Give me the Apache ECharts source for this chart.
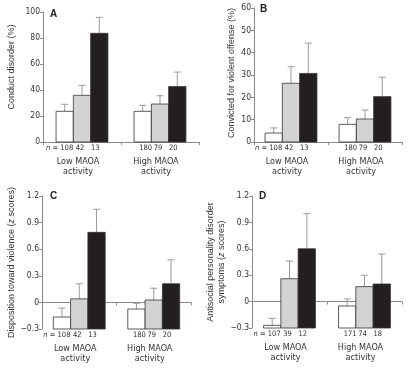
<!DOCTYPE html>
<html><head><meta charset="utf-8">
<script src="https://cdn.jsdelivr.net/npm/echarts@6/dist/echarts.min.js"></script>
<style>html,body{margin:0;padding:0;background:#fff}#c{width:413px;height:368px}</style>
</head><body><div id="c"></div>
<script>
// Data (order: Low MAOA white/gray/black, High MAOA white/gray/black)
const categories = ['Low MAOA\nactivity', 'High MAOA\nactivity'];
const valuesA = [23.6, 35.9, 83.6, 23.6, 29.2, 42.6];
const errTopA = [29.0, 43.6, 95.9, 28.2, 35.6, 53.8];
const nA = ['108', '42', '13', '180', '79', '20'];
const valuesB = [4.0, 26.3, 30.7, 7.9, 10.3, 20.3];
const errTopB = [6.3, 33.7, 44.3, 10.9, 14.3, 29.0];
const nB = ['108', '42', '13', '180', '79', '20'];
const valuesC = [-0.165, 0.04, 0.79, -0.075, 0.027, 0.21];
const errTopC = [-0.065, 0.21, 1.05, -0.01, 0.16, 0.48];
const nC = ['108', '42', '13', '180', '79', '20'];
const valuesD = [-0.27, 0.26, 0.60, -0.05, 0.17, 0.20];
const errTopD = [-0.19, 0.46, 1.00, 0.03, 0.30, 0.54];
const nD = ['107', '39', '12', '171', '74', '18'];

const FONT = "'Liberation Sans', Arial, Helvetica, sans-serif";
const NARROW = "'Liberation Sans Narrow', 'Arial Narrow', 'DejaVu Sans Condensed', sans-serif";
const FILLS = ['#ffffff', '#d3d3d3', '#231f20'];
const BW = 17.3;
const LABEL_SHIFT = [3, -2, -4];

const panels = [
  {letter: 'A', values: valuesA, err: errTopA, n: nA, min: 0, max: 100, interval: 20,
   name: 'Conduct disorder (%)', nameGap: 26, namePad: [0, 0, 0, 20],
   grid: {left: 43, top: 12, width: 156, height: 130}, title: {left: 50, top: 9}},
  {letter: 'B', values: valuesB, err: errTopB, n: nB, min: 0, max: 60, interval: 10,
   name: 'Convicted for violent offense (%)', nameGap: 12, namePad: [0, 0, 0, 4],
   grid: {left: 254, top: 8, width: 148, height: 134}, title: {left: 260, top: 4}},
  {letter: 'C', values: valuesC, err: errTopC, n: nC, min: -0.3, max: 1.2, interval: 0.3,
   name: 'Disposition toward violence ({i|z} scores)', nameGap: 20, namePad: [0, 0, 0, 0],
   grid: {left: 42, top: 196, width: 149, height: 133}, title: {left: 50, top: 191}},
  {letter: 'D', values: valuesD, err: errTopD, n: nD, min: -0.3, max: 1.2, interval: 0.3,
   name: 'Antisocial personality disorder\nsymptoms ({i|z} scores)', nameGap: 17, namePad: [0, 0, 0, 0],
   grid: {left: 252, top: 196, width: 150, height: 132}, title: {left: 259, top: 191}}
];

function fmt(v) {
  if (Math.abs(v) < 1e-9) return '0';
  const r = Math.round(v * 10) / 10;
  const s = (Math.abs(r) >= 10) ? String(Math.round(r)) : r.toFixed(1);
  return s.replace('-', '\u2212');
}

const option = {
  animation: false,
  backgroundColor: '#fff',
  textStyle: {fontFamily: FONT},
  title: [], grid: [], xAxis: [], yAxis: [], series: []
};

panels.forEach((p, i) => {
  option.title.push({text: p.letter, left: p.title.left, top: p.title.top, padding: 0,
    textStyle: {fontSize: 10, fontWeight: 'bold', color: '#222', fontFamily: FONT}});
  option.grid.push(Object.assign({containLabel: false}, p.grid));
  option.xAxis.push({type: 'category', gridIndex: i, data: categories,
    axisLine: {lineStyle: {color: '#8a8a8a', width: 1}},
    axisTick: {show: true, length: 3, lineStyle: {color: '#8a8a8a'}},
    axisLabel: {margin: 15, fontSize: 9, lineHeight: 10, color: '#333', fontFamily: NARROW,
      padding: [0, 8, 0, 0]},
    splitLine: {show: false}});
  option.yAxis.push({type: 'value', gridIndex: i, min: p.min, max: p.max, interval: p.interval,
    name: p.name, nameLocation: 'middle', nameGap: p.nameGap,
    nameTextStyle: {fontSize: 9, color: '#333', lineHeight: 11, fontFamily: FONT, padding: p.namePad,
      rich: {i: {fontStyle: 'italic', fontSize: 9, color: '#333', fontFamily: FONT}}},
    axisLine: {show: true, lineStyle: {color: '#8a8a8a', width: 1}},
    axisTick: {show: true, length: 3, lineStyle: {color: '#8a8a8a'}},
    axisLabel: {fontSize: 8.5, color: '#333', margin: 3, fontFamily: NARROW, formatter: fmt},
    splitLine: {show: false}});
  const data = p.values.map((v, j) => [Math.floor(j / 3), j % 3, v, p.err[j], j]);
  option.series.push({
    type: 'custom', xAxisIndex: i, yAxisIndex: i, data: data, clip: false,
    renderItem: function (params, api) {
      const cat = api.value(0), k = api.value(1), v = api.value(2), e = api.value(3), idx = api.value(4);
      const c = api.coord([cat, v]);
      const cx = c[0] + (k - 1) * BW;
      const top = c[1];
      const base = api.coord([cat, p.min])[1];
      const et = api.coord([cat, e])[1];
      const children = [];
      children.push({type: 'line', shape: {x1: cx, y1: top, x2: cx, y2: et},
        style: {stroke: '#9a9a9a', lineWidth: 1}});
      children.push({type: 'line', shape: {x1: cx - 3.5, y1: et, x2: cx + 3.5, y2: et},
        style: {stroke: '#9a9a9a', lineWidth: 1}});
      children.push({type: 'rect', shape: {x: cx - BW / 2, y: top, width: BW, height: base - top},
        style: {fill: FILLS[k], stroke: '#333', lineWidth: 0.8}});
      if (idx === 0) {
        children.push({type: 'text', x: cx + 8.5, y: base + 2.5,
          style: {text: '{i|n} = ' + p.n[idx], align: 'right', verticalAlign: 'top', fontSize: 7.5, fill: '#333',
            fontFamily: NARROW,
            rich: {i: {fontStyle: 'italic', fontSize: 7.5, fill: '#333', fontFamily: NARROW}}}});
      } else {
        children.push({type: 'text', x: cx + LABEL_SHIFT[k], y: base + 2.5,
          style: {text: p.n[idx], align: 'center', verticalAlign: 'top', fontSize: 7.5, fill: '#333',
            fontFamily: NARROW}});
      }
      return {type: 'group', children: children};
    }
  });
});

const chart = echarts.init(document.getElementById('c'), null, {renderer: 'canvas'});
chart.setOption(option);
</script>
</body></html>
